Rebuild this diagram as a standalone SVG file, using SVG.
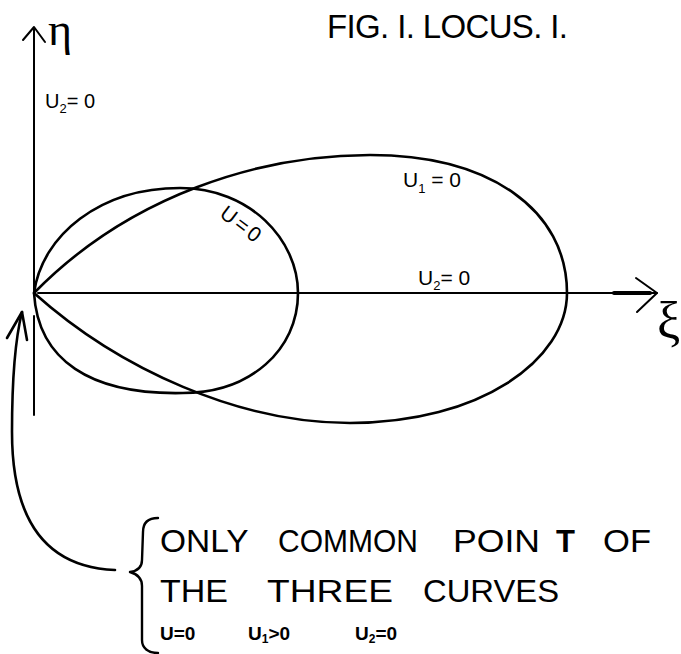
<svg xmlns="http://www.w3.org/2000/svg" width="681" height="654" viewBox="0 0 681 654">
<style>
.ln{fill:none;stroke:#000;stroke-linecap:round;stroke-linejoin:round}
.ax{stroke-width:2}
.cv{stroke-width:2.6}
.t{font-family:"Liberation Sans","DejaVu Sans",sans-serif;fill:#000}
.g{font-family:"Liberation Serif","DejaVu Serif",serif;fill:#000}
</style>
<rect width="681" height="654" fill="#fff"/>
<g id="connectors">
  <g id="axis-eta">
    <path class="ln ax" d="M34 29 V290 M34 316 V415"/>
    <path class="ln ax" d="M23 40 L34 27 L45 42"/>
  </g>
  <g id="axis-xi">
    <path class="ln ax" d="M38 293 H657"/>
    <path class="ln" stroke-width="4" d="M614 293 H650"/>
    <path class="ln ax" d="M636 278 L657 293 L637 312"/>
  </g>
  <g id="pointer-arrow">
    <path class="ln cv" d="M115 570 C40 567 12 512 12 432 C12 380 15 340 22 312"/>
    <path class="ln cv" d="M7 338 L22 312 L27 340"/>
  </g>
</g>
<g id="curve-u1">
  <path class="ln cv" d="M34 293 C130 195 260 155 370 155 C490 155 567 210 567 293 C567 360 480 423 350 423 C240 423 120 370 34 293 Z"/>
</g>
<g id="curve-u">
  <path class="ln cv" d="M34 293 C42 235 100 188 180 188 C250 188 298 240 298 293 C298 350 250 393 183 393 C90 395 38 360 34 293 Z"/>
</g>
<g id="title">
  <text class="t" x="327" y="38" font-size="33" textLength="241" lengthAdjust="spacing">FIG. I. LOCUS. I.</text>
</g>
<g id="axis-labels">
  <text class="g" x="48" y="45" font-size="46">η</text>
  <text class="g" x="657" y="338" font-size="52">ξ</text>
</g>
<g id="label-u2-vertical">
  <text class="t" x="45" y="108" font-size="20">U<tspan font-size="13" dy="5">2</tspan><tspan dy="-5">= 0</tspan></text>
</g>
<g id="label-u1">
  <text class="t" x="403" y="187" font-size="21">U<tspan font-size="13" dy="6">1</tspan><tspan dy="-6"> = 0</tspan></text>
</g>
<g id="label-u">
  <text class="t" transform="translate(242,225) rotate(37)" x="0" y="7" font-size="21" text-anchor="middle" letter-spacing="3">U=0</text>
</g>
<g id="label-u2-horizontal">
  <text class="t" x="418" y="285" font-size="21">U<tspan font-size="13" dy="5">2</tspan><tspan dy="-5">= 0</tspan></text>
</g>
<g id="note">
  <path class="ln" stroke-width="2.4" d="M158 518 C148 518 143 523 143 532 L142 560 C142 567 137 571 130 572 C137 574 142 578 142 586 L142 640 C142 648 148 653 158 653"/>
  <text class="t" y="552" font-size="31"><tspan x="160" textLength="88" lengthAdjust="spacingAndGlyphs">ONLY</tspan> <tspan x="278" textLength="140" lengthAdjust="spacingAndGlyphs">COMMON</tspan> <tspan x="453" textLength="87" lengthAdjust="spacingAndGlyphs">POIN</tspan> <tspan x="556" font-weight="bold">T</tspan> <tspan x="603" textLength="48" lengthAdjust="spacingAndGlyphs">OF</tspan></text>
  <text class="t" y="602" font-size="31"><tspan x="160" textLength="68" lengthAdjust="spacingAndGlyphs">THE</tspan> <tspan x="267" textLength="126" lengthAdjust="spacingAndGlyphs">THREE</tspan> <tspan x="423" textLength="136" lengthAdjust="spacingAndGlyphs">CURVES</tspan></text>
  <text class="t" y="640" font-size="19" font-weight="bold"><tspan x="160">U=0</tspan> <tspan x="248">U<tspan font-size="12" dy="3">1</tspan><tspan dy="-3">&gt;0</tspan></tspan> <tspan x="355">U<tspan font-size="12" dy="3">2</tspan><tspan dy="-3">=0</tspan></tspan></text>
</g>
</svg>
